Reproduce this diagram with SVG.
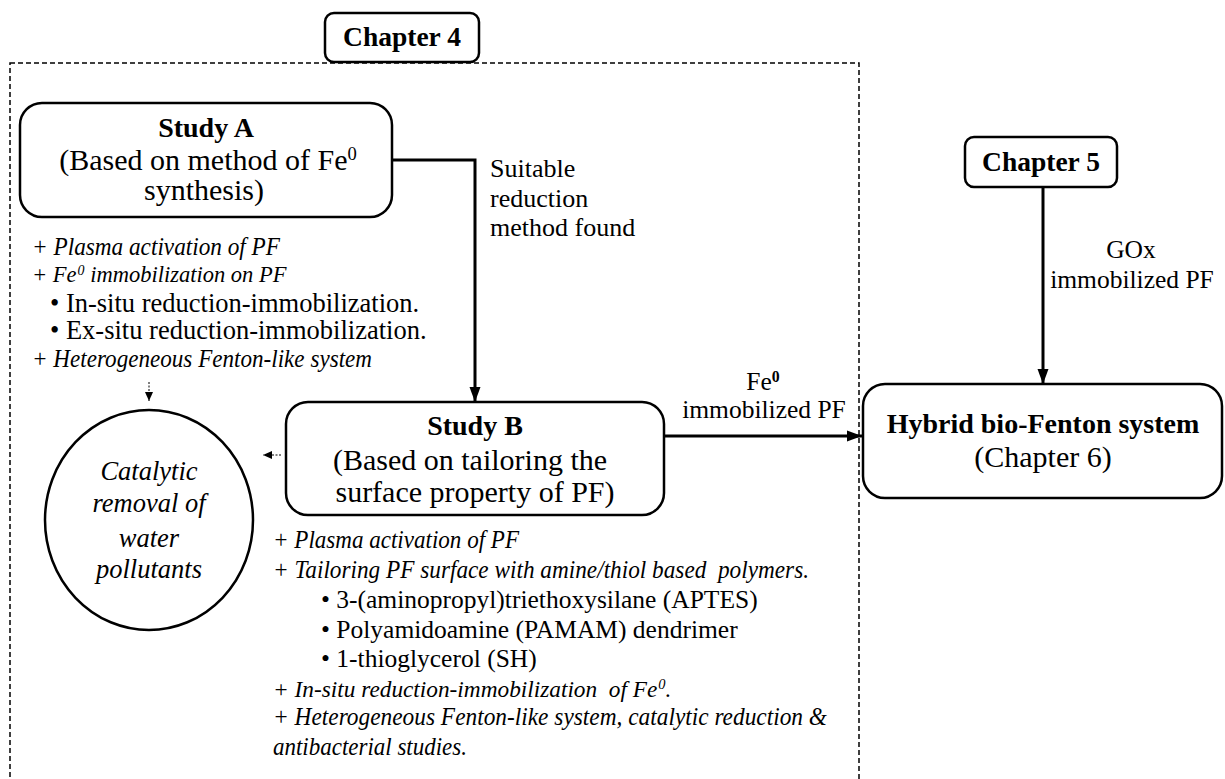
<svg xmlns="http://www.w3.org/2000/svg" width="1225" height="779" viewBox="0 0 1225 779">
<defs>
<style>
.box{fill:#fff;stroke:#000;stroke-width:2.5}
.frame{fill:none;stroke:#000;stroke-width:1.5;stroke-dasharray:5 3}
.conn{fill:none;stroke:#000;stroke-width:3}
.dot{fill:none;stroke:#000;stroke-width:1;stroke-dasharray:2 1.5}
text{font-family:"Liberation Serif","Times New Roman",serif;font-size:25.5px;fill:#000}
.b{font-weight:bold;font-size:28px}
.r{font-size:30px}
.la{font-size:26.5px}
.li{font-style:italic;font-size:25px}
.c{text-anchor:middle}
.ci{font-style:italic;font-size:26.5px;text-anchor:middle}
.lbl{font-size:26px}
.sup{font-size:0.62em}
</style>
<marker id="ah" markerUnits="userSpaceOnUse" markerWidth="16" markerHeight="12" refX="15" refY="6" orient="auto">
<path d="M0,0.5 L15,6 L0,11.5 Z" fill="#000"/>
</marker>
<marker id="sa" markerUnits="userSpaceOnUse" markerWidth="10" markerHeight="10" refX="9" refY="5" orient="auto">
<path d="M0,1 L9,5 L0,9 Z" fill="#000"/>
</marker>
</defs>
<rect width="1225" height="779" fill="#fff"/>

<rect id="chapter4-frame" class="frame" x="10" y="63" width="849" height="740"/>

<g id="chapter4">
<rect class="box" x="325" y="13" width="154" height="49" rx="9"/>
<text class="b c" x="402" y="46" style="font-size:27.5px">Chapter 4</text>
</g>

<g id="studyA">
<rect class="box" x="20" y="103" width="372" height="114" rx="22"/>
<text class="b c" x="206" y="137">Study A</text>
<text class="r c" x="208" y="170">(Based on method of Fe<tspan class="sup" baseline-shift="super">0</tspan></text>
<text class="r c" x="204" y="200">synthesis)</text>
</g>

<g id="studyA-list">
<text class="li" x="32" y="255" textLength="248" lengthAdjust="spacingAndGlyphs">+ Plasma activation of PF</text>
<text class="li" x="32" y="282" style="font-size:22.5px">+ Fe<tspan class="sup" dx="1" baseline-shift="super">0</tspan> immobilization on PF</text>
<text class="la" x="50" y="312">• In-situ reduction-immobilization.</text>
<text class="la" x="50" y="339">• Ex-situ reduction-immobilization.</text>
<text class="li" x="32" y="367" textLength="340" lengthAdjust="spacingAndGlyphs">+ Heterogeneous Fenton-like system</text>
</g>

<g id="catalytic-removal">
<ellipse class="box" cx="149" cy="520" rx="104" ry="110" stroke-width="3"/>
<text class="ci" x="149" y="480">Catalytic</text>
<text class="ci" x="149" y="512">removal of</text>
<text class="ci" x="149" y="547">water</text>
<text class="ci" x="149" y="578">pollutants</text>
</g>

<g id="studyB">
<rect class="box" x="286" y="402" width="378" height="113" rx="22"/>
<text class="b c" x="475" y="435">Study B</text>
<text class="r c" x="470" y="470">(Based on tailoring the</text>
<text class="r c" x="475" y="502">surface property of PF)</text>
</g>

<g id="studyB-list">
<text class="li" x="273" y="548" textLength="246" lengthAdjust="spacingAndGlyphs">+ Plasma activation of PF</text>
<text class="li" x="273" y="578" xml:space="preserve" textLength="536" lengthAdjust="spacingAndGlyphs">+ Tailoring PF surface with amine/thiol based  polymers.</text>
<text x="321" y="608">• 3-(aminopropyl)triethoxysilane (APTES)</text>
<text x="321" y="638">• Polyamidoamine (PAMAM) dendrimer</text>
<text x="321" y="667">• 1-thioglycerol (SH)</text>
<text class="li" x="273" y="697" xml:space="preserve" style="font-size:23.3px">+ In-situ reduction-immobilization  of Fe<tspan class="sup" dx="1" baseline-shift="super">0</tspan>.</text>
<text class="li" x="273" y="725" textLength="554" lengthAdjust="spacingAndGlyphs">+ Heterogeneous Fenton-like system, catalytic reduction &amp;</text>
<text class="li" x="273" y="755" textLength="194" lengthAdjust="spacingAndGlyphs">antibacterial studies.</text>
</g>

<g id="chapter5">
<rect class="box" x="965" y="137" width="152" height="50" rx="9"/>
<text class="b c" x="1041" y="171" style="font-size:27.5px">Chapter 5</text>
</g>

<g id="hybrid">
<rect class="box" x="863" y="384" width="359" height="114" rx="22"/>
<text class="b c" x="1043" y="433">Hybrid bio-Fenton system</text>
<text class="r c" x="1043" y="467">(Chapter 6)</text>
</g>

<g id="connectors">
<path class="conn" d="M392,160 H475 V402" marker-end="url(#ah)"/>
<path class="conn" d="M665,436 H862" marker-end="url(#ah)"/>
<path class="conn" d="M1043,187 V384" marker-end="url(#ah)"/>
<path class="dot" d="M149,382 V401" marker-end="url(#sa)"/>
<path class="dot" d="M281,455 H263" marker-end="url(#sa)"/>
<text class="lbl" x="490" y="177">Suitable</text>
<text class="lbl" x="490" y="207">reduction</text>
<text class="lbl" x="490" y="236">method found</text>
<text class="c" x="763" y="390">Fe<tspan class="sup" baseline-shift="super" font-weight="bold">0</tspan></text>
<text class="c" x="764" y="418">immobilized PF</text>
<text class="c" x="1131" y="258">GOx</text>
<text class="c" x="1132" y="288">immobilized PF</text>
</g>
</svg>
